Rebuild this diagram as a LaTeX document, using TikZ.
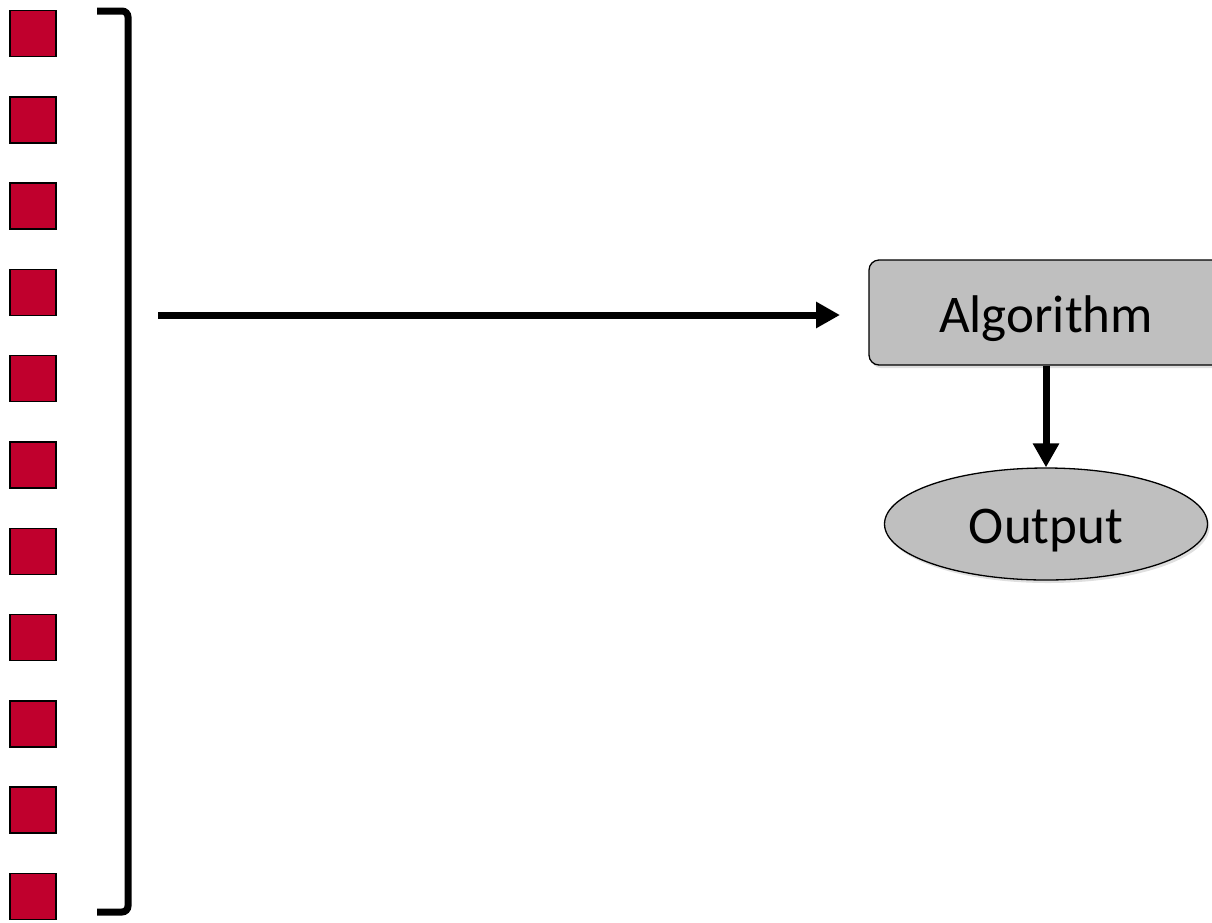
\documentclass[tikz,border=0pt]{standalone}
\usepackage{fontspec}
\setmainfont{Carlito}
\usetikzlibrary{arrows.meta,shadows,shapes.geometric}
\definecolor{sqred}{RGB}{192,0,45}
\definecolor{boxgray}{RGB}{191,191,191}
\tikzset{
  sq/.style={draw=black, line width=1.5pt, fill=sqred, minimum width=46pt, minimum height=46pt, inner sep=0pt},
  conn/.style={line width=7pt, -{Triangle[length=24pt,width=25pt]}},
  algbox/.style={draw=black, line width=1.3pt, fill=boxgray, rounded corners=10pt, minimum width=354pt, minimum height=105pt,
     drop shadow={opacity=0.25, shadow xshift=2pt, shadow yshift=-3pt}},
  outell/.style={draw=black, line width=1.3pt, fill=boxgray, ellipse, minimum width=323pt, minimum height=112pt, inner sep=0pt,
     drop shadow={opacity=0.25, shadow xshift=2pt, shadow yshift=-3pt}},
  lbl/.style={font=\fontsize{53}{60}\selectfont}
}
\begin{document}
\begin{tikzpicture}[x=1pt,y=-1pt]
\useasboundingbox (0,0) rectangle (1212,922);
\foreach \i in {0,...,10} {
  \node[sq] (s\i) at (33, {33.5+86.3*\i}) {};
}
\draw[line width=7pt, rounded corners=6pt] (97,11) -- (128,11) -- (128,912) -- (97,912);
\coordinate (a0) at (158,315);
\coordinate (a1) at (840,315);
\node[algbox] (alg) at (1046,312.5) {};
\node[lbl] at (1046,319) {Algorithm};
\node[outell] (out) at (1046,524) {};
\node[lbl] at (1046,531) {Output};
\draw[conn] (a0) -- (a1);
\draw[conn] (alg.south) -- (out.north);
\end{tikzpicture}
\end{document}
